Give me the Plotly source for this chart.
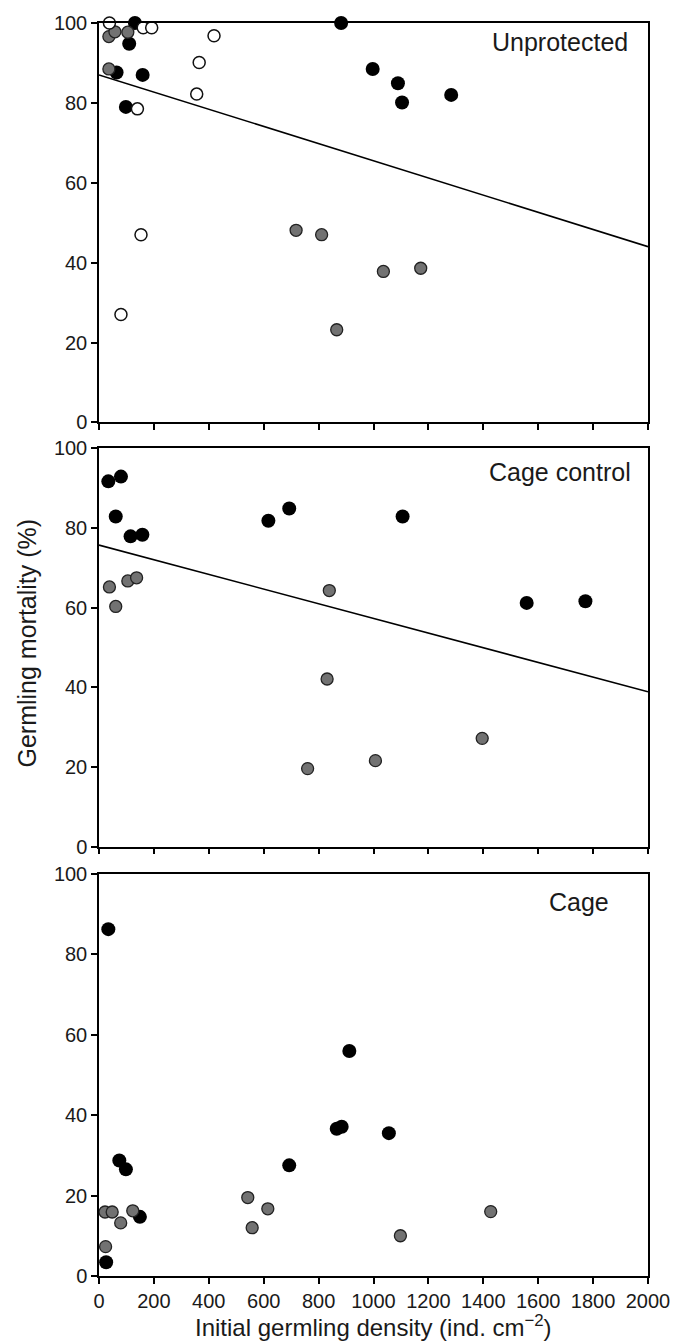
import plotly.graph_objects as go

# ---------------- data ----------------
panel_names = ["Unprotected", "Cage control", "Cage"]

# Unprotected
unp_black_x = [131, 110, 64, 159, 98, 882, 997, 1089, 1104, 1283]
unp_black_y = [100, 94.8, 87.6, 87, 79, 100, 88.5, 84.9, 80.1, 82]
unp_gray_x = [36, 58, 105, 36, 718, 811, 1036, 1172, 866]
unp_gray_y = [96.6, 97.8, 97.7, 88.5, 48.1, 47, 37.8, 38.6, 23.2]
unp_white_x = [38, 161, 192, 419, 365, 356, 140, 153, 80]
unp_white_y = [100, 98.8, 98.8, 96.8, 90.1, 82.2, 78.5, 47, 27]
unp_fit_x = [0, 2000]
unp_fit_y = [87, 44]

# Cage control
cc_black_x = [34, 80, 61, 115, 158, 617, 693, 1106, 1558, 1772]
cc_black_y = [91.7, 92.9, 82.9, 77.9, 78.3, 81.8, 84.9, 82.9, 61.2, 61.6]
cc_gray_x = [38, 105, 137, 61, 839, 831, 760, 1007, 1396]
cc_gray_y = [65.2, 66.7, 67.5, 60.3, 64.3, 42.1, 19.6, 21.6, 27.2]
cc_fit_x = [0, 2000]
cc_fit_y = [75.7, 38.9]

# Cage
cg_black_x = [34, 74, 98, 149, 26, 693, 866, 884, 912, 1056]
cg_black_y = [86.2, 28.7, 26.5, 14.7, 3.4, 27.5, 36.6, 37.1, 55.9, 35.5]
cg_gray_x = [22, 48, 79, 123, 24, 542, 558, 615, 1427, 1098]
cg_gray_y = [15.9, 15.9, 13.2, 16.2, 7.3, 19.5, 12, 16.7, 16, 10]

x_ticks = [0, 200, 400, 600, 800, 1000, 1200, 1400, 1600, 1800, 2000]
y_ticks = [0, 20, 40, 60, 80, 100]

# ---------------- styles ----------------
FONT = "Liberation Sans, Arial, Helvetica, sans-serif"
TXT = "#1a1a1a"
black_m = dict(size=14, color="black", line=dict(color="black", width=0))
gray_m = dict(size=12, color="#727272", line=dict(color="#222222", width=1.3))
white_m = dict(size=12, color="white", line=dict(color="#111111", width=1.5))
fit_l = dict(color="black", width=1.6)

fig = go.Figure()

def add_pts(x, y, marker, ax):
    fig.add_trace(go.Scatter(x=x, y=y, mode="markers", marker=marker,
                             xaxis="x" + ax, yaxis="y" + ax,
                             cliponaxis=False, showlegend=False,
                             hoverinfo="skip"))

def add_line(x, y, ax):
    fig.add_trace(go.Scatter(x=x, y=y, mode="lines", line=fit_l,
                             xaxis="x" + ax, yaxis="y" + ax,
                             showlegend=False, hoverinfo="skip"))

# panel 1
add_line(unp_fit_x, unp_fit_y, "")
add_pts(unp_black_x, unp_black_y, black_m, "")
add_pts(unp_gray_x, unp_gray_y, gray_m, "")
add_pts(unp_white_x, unp_white_y, white_m, "")
# panel 2
add_line(cc_fit_x, cc_fit_y, "2")
add_pts(cc_black_x, cc_black_y, black_m, "2")
add_pts(cc_gray_x, cc_gray_y, gray_m, "2")
# panel 3
add_pts(cg_black_x, cg_black_y, black_m, "3")
add_pts(cg_gray_x, cg_gray_y, gray_m, "3")

W, H = 687, 1341
ML, MR, MT, MB = 99, 39, 18, 65
PH = H - MT - MB

def dom(top_px, bot_px):
    return [1 - (bot_px - MT) / PH, 1 - (top_px - MT) / PH]

domains = [dom(18, 419), dom(445, 845), dom(872, 1276)]

common_x = dict(range=[0, 2000], tickmode="array", tickvals=x_ticks,
                ticks="outside", ticklen=6, tickwidth=1.5, tickcolor="black",
                showline=True, linecolor="black", linewidth=1.5, mirror=True,
                showgrid=False, zeroline=False,
                tickfont=dict(family=FONT, size=20, color=TXT))
common_y = dict(range=[0, 100], tickmode="array", tickvals=y_ticks,
                ticks="outside", ticklen=6, tickwidth=1.5, tickcolor="black",
                showline=True, linecolor="black", linewidth=1.5, mirror=True,
                showgrid=False, zeroline=False,
                tickfont=dict(family=FONT, size=20, color=TXT))

layout = dict(width=W, height=H,
              margin=dict(l=ML, r=MR, t=MT, b=MB),
              paper_bgcolor="white", plot_bgcolor="white",
              font=dict(family=FONT, color=TXT))
for i, ax in enumerate(["", "2", "3"]):
    xa = dict(common_x, anchor="y" + ax, showticklabels=(i == 2))
    ya = dict(common_y, anchor="x" + ax, domain=domains[i])
    layout["xaxis" + ax] = xa
    layout["yaxis" + ax] = ya
fig.update_layout(**layout)

ann_pos = [(1935, 95.2), (1945, 94.0), (1864, 93.0)]
for i, ax in enumerate(["", "2", "3"]):
    fig.add_annotation(x=ann_pos[i][0], y=ann_pos[i][1], xref="x" + ax, yref="y" + ax,
                       text=panel_names[i], showarrow=False, xanchor="right",
                       yanchor="middle", font=dict(family=FONT, size=25, color=TXT))

fig.add_annotation(x=0.5, y=-50 / PH, xref="paper", yref="paper",
                   text="Initial germling density (ind. cm<sup>−2</sup>)",
                   showarrow=False, xanchor="center", yanchor="middle",
                   font=dict(family=FONT, size=24, color=TXT))
fig.add_annotation(x=(27 - ML) / (W - ML - MR), y=1 - (641 - MT) / PH,
                   xref="paper", yref="paper", text="Germling mortality (%)",
                   textangle=-90, showarrow=False, xanchor="center", yanchor="middle",
                   font=dict(family=FONT, size=25, color=TXT))

fig.write_html("out.html", config={"displayModeBar": False},
               post_script="document.body.style.margin='0';document.body.style.overflow='hidden';")
